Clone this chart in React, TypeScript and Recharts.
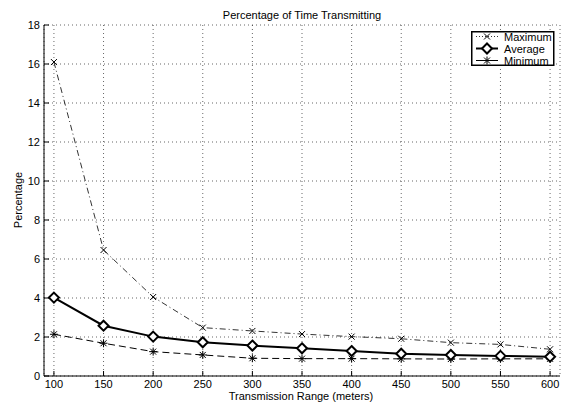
import { LineChart, Line, XAxis, YAxis, CartesianGrid } from 'recharts';

const ranges = [100, 150, 200, 250, 300, 350, 400, 450, 500, 550, 600];
const maximum = [16.1, 6.46, 4.05, 2.48, 2.31, 2.15, 2.02, 1.91, 1.71, 1.62, 1.37];
const average = [4.02, 2.58, 2.02, 1.73, 1.56, 1.42, 1.28, 1.14, 1.08, 1.03, 0.99];
const minimum = [2.14, 1.68, 1.25, 1.08, 0.91, 0.89, 0.89, 0.88, 0.87, 0.88, 0.88];
const yTicks = [0, 2, 4, 6, 8, 10, 12, 14, 16, 18];

const data = ranges.map((r, i) => ({
    range: r,
    max: maximum[i],
    avg: average[i],
    min: minimum[i],
}));

const FONT = 'Liberation Sans, Arial, sans-serif';

function Cross(cx: number, cy: number, key?: any) {
    const s = 3;
    return (
        <g key={key}>
            <line x1={cx - s} y1={cy - s} x2={cx + s} y2={cy + s} stroke="#000" strokeWidth={1} />
            <line x1={cx - s} y1={cy + s} x2={cx + s} y2={cy - s} stroke="#000" strokeWidth={1} />
        </g>
    );
}

function Diamond(cx: number, cy: number, key?: any) {
    const s = 5;
    return (
        <polygon
            key={key}
            points={`${cx},${cy - s} ${cx + s},${cy} ${cx},${cy + s} ${cx - s},${cy}`}
            fill="#fff"
            stroke="#000"
            strokeWidth={2}
        />
    );
}

function Star(cx: number, cy: number, key?: any) {
    const s = 3;
    return (
        <g key={key}>
            <line x1={cx - s} y1={cy - s} x2={cx + s} y2={cy + s} stroke="#000" strokeWidth={1} />
            <line x1={cx - s} y1={cy + s} x2={cx + s} y2={cy - s} stroke="#000" strokeWidth={1} />
            <line x1={cx - s - 1} y1={cy} x2={cx + s + 1} y2={cy} stroke="#000" strokeWidth={1} />
            <line x1={cx} y1={cy - s - 1} x2={cx} y2={cy + s + 1} stroke="#000" strokeWidth={1} />
        </g>
    );
}

const XTick = ({ x, y, payload }: any) => (
    <g>
        <line x1={x} y1={y} x2={x} y2={y - 5} stroke="#000" />
        <text x={x} y={y + 8} textAnchor="middle" dominantBaseline="central" fontSize={11} fontFamily={FONT}>
            {payload.value}
        </text>
    </g>
);

const YTick = ({ x, y, payload }: any) => (
    <g>
        <line x1={x} y1={y} x2={x + 5} y2={y} stroke="#000" />
        <text x={x - 4} y={y} textAnchor="end" dominantBaseline="central" fontSize={11} fontFamily={FONT}>
            {payload.value}
        </text>
    </g>
);

const legendRows = [
    { label: 'Maximum', dash: '1 2', width: 0.8, marker: Cross },
    { label: 'Average', dash: undefined, width: 2, marker: Diamond },
    { label: 'Minimum', dash: undefined, width: 1, marker: Star },
];

const LegendBox = () => (
    <g transform="translate(471 31)">
        <rect x={0.75} y={0.75} width={82} height={33.5} fill="#fff" stroke="#000" strokeWidth={1.5} />
        {legendRows.map((r, i) => {
            const cy = 5.5 + i * 12;
            return (
                <g key={r.label}>
                    <line x1={5} y1={cy} x2={27} y2={cy} stroke="#000" strokeWidth={r.width} strokeDasharray={r.dash} />
                    {r.marker(16, cy)}
                    <text x={33} y={cy} dominantBaseline="central" fontSize={11} fontFamily={FONT}>
                        {r.label}
                    </text>
                </g>
            );
        })}
    </g>
);

export default function App() {
    return (
        <div style={{ position: 'absolute', left: 0, top: 0, width: 563, height: 402, background: '#fff' }}>
            <LineChart width={563} height={402} data={data} margin={{ top: 25, right: 3, left: 0, bottom: 0 }}>
                <CartesianGrid stroke="#000" strokeDasharray="1 3" strokeWidth={0.6} />
                <XAxis
                    dataKey="range"
                    type="number"
                    domain={[90, 610]}
                    ticks={ranges}
                    height={26}
                    tickSize={0}
                    tickMargin={0}
                    tick={<XTick />}
                    axisLine={{ stroke: '#000' }}
                    tickLine={false}
                    interval={0}
                />
                <YAxis
                    type="number"
                    domain={[0, 18]}
                    ticks={yTicks}
                    width={44}
                    tickSize={0}
                    tickMargin={0}
                    tick={<YTick />}
                    axisLine={{ stroke: '#000' }}
                    tickLine={false}
                    interval={0}
                />
                <Line
                    dataKey="max"
                    stroke="#000"
                    strokeWidth={0.8}
                    strokeDasharray="6 3 1 3"
                    isAnimationActive={false}
                    dot={(p: any) => Cross(p.cx, p.cy, p.index)}
                    activeDot={false}
                />
                <Line
                    dataKey="min"
                    stroke="#000"
                    strokeWidth={1}
                    strokeDasharray="7 4"
                    isAnimationActive={false}
                    dot={(p: any) => Star(p.cx, p.cy, p.index)}
                    activeDot={false}
                />
                <Line
                    dataKey="avg"
                    stroke="#000"
                    strokeWidth={2}
                    isAnimationActive={false}
                    dot={(p: any) => Diamond(p.cx, p.cy, p.index)}
                    activeDot={false}
                />
                <LegendBox />
                <text x={302} y={15} textAnchor="middle" dominantBaseline="central" fontSize={11} fontFamily={FONT}>
                    Percentage of Time Transmitting
                </text>
                <text x={301} y={396} textAnchor="middle" dominantBaseline="central" fontSize={11} fontFamily={FONT}>
                    Transmission Range (meters)
                </text>
                <text
                    x={18}
                    y={200}
                    textAnchor="middle"
                    dominantBaseline="central"
                    fontSize={11}
                    fontFamily={FONT}
                    transform="rotate(-90 18 200)"
                >
                    Percentage
                </text>
            </LineChart>
        </div>
    );
}
